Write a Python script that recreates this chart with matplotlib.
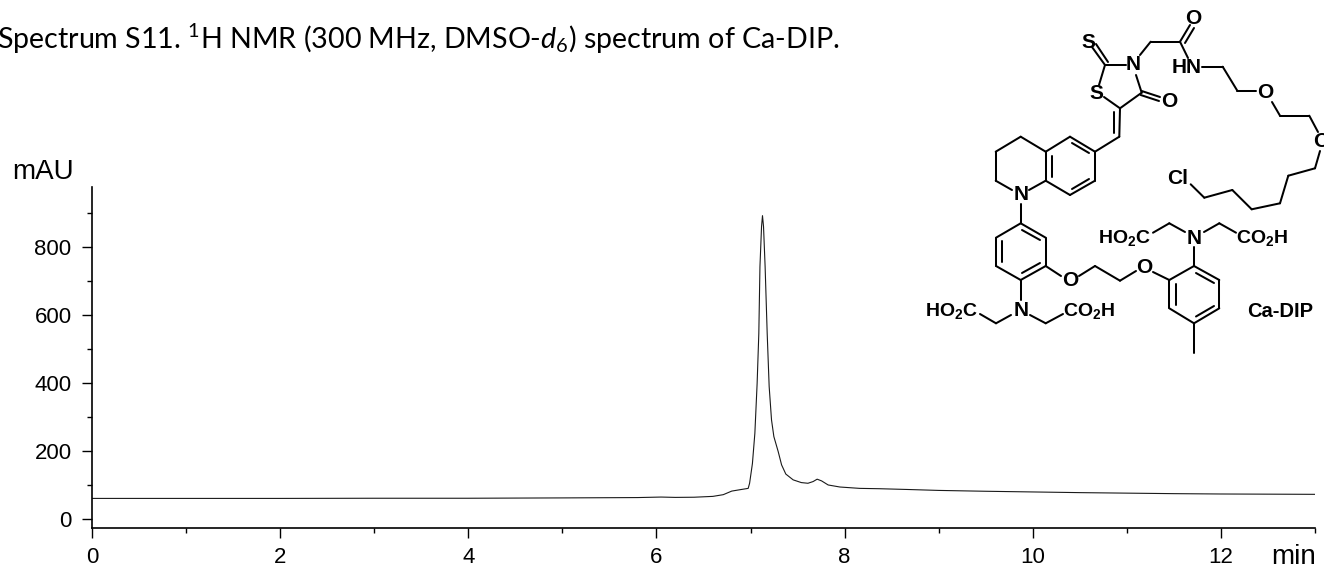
import matplotlib
matplotlib.use("Agg")
import matplotlib.pyplot as plt
from matplotlib.ticker import FixedLocator

plt.rcParams['font.family'] = ['Liberation Sans', 'DejaVu Sans']
plt.rcParams['mathtext.fontset'] = 'custom'
plt.rcParams['mathtext.rm'] = 'Lato'
plt.rcParams['mathtext.it'] = 'Lato:italic'
plt.rcParams['mathtext.bf'] = 'Liberation Sans:bold'

# --- chromatogram ---
time_min = [0, 1, 2, 3, 4, 5, 5.8, 6.05, 6.2, 6.4, 6.6, 6.71, 6.80, 6.886, 6.975, 6.99, 7.02, 7.046,
            7.07, 7.088, 7.10, 7.117, 7.127, 7.138, 7.155, 7.177, 7.198, 7.223, 7.248,
            7.294, 7.33, 7.375, 7.453, 7.54, 7.61, 7.665, 7.708, 7.755, 7.825, 7.95,
            8.16, 8.37, 8.7, 9, 9.5, 10, 10.5, 11, 11.5, 12, 12.5, 13]
signal_mau = [60.5, 60.5, 60.5, 61, 61, 62, 63, 64.5, 63.5, 64, 66.5, 71.5, 82, 86, 90, 105, 163, 252,
              398, 545, 741, 859, 891, 859, 741, 545, 389, 291, 242,
              198, 159, 132, 115, 107, 105, 110, 117, 112, 100, 94,
              90, 89, 86.5, 84, 81.5, 79.5, 77.5, 76, 74.5, 73.5, 73, 72.5]

x_major = [0, 2, 4, 6, 8, 10, 12]
x_minor = [1, 3, 5, 7, 9, 11, 13]
y_major = [0, 200, 400, 600, 800]
y_minor = [100, 300, 500, 700, 900]

title_text = r"Spectrum S11. $\mathrm{^{1}}$H NMR (300 MHz, DMSO-$\mathit{d_{6}}$) spectrum of Ca-DIP."

# --- structure drawing (figure pixels) ---
bonds = [
    [(1092, 47), (1105, 65)], [(1096, 44), (1108, 62)],
    [(1105, 65), (1126, 65)], [(1105, 65), (1099, 85)],
    [(1136, 75), (1141.7, 92.7)], [(1141.7, 92.7), (1120, 108.3)], [(1120, 108.3), (1104, 97)],
    [(1141.7, 91), (1160, 97)], [(1140.7, 95), (1159, 101)],
    [(1140, 55), (1150.7, 41.7)], [(1150.7, 41.7), (1180, 41.7)],
    [(1180, 41.7), (1190, 25)], [(1185, 43), (1194, 28)],
    [(1180, 41.7), (1188, 58)], [(1202, 66.7), (1222.7, 66.7)], [(1222.7, 66.7), (1237.3, 90.7)],
    [(1237.3, 90.7), (1256, 90.7)], [(1272, 102), (1280, 115.7)], [(1280, 115.7), (1309.3, 115.7)],
    [(1309.3, 115.7), (1318, 132)], [(1320, 151), (1315, 168.3)], [(1315, 168.3), (1288.3, 175.7)],
    [(1288.3, 175.7), (1280, 203.3)], [(1280, 203.3), (1251.7, 209.3)], [(1251.7, 209.3), (1232.3, 190)],
    [(1232.3, 190), (1204.3, 197.7)], [(1204.3, 197.7), (1190.7, 184.3)],
    [(1120, 108.3), (1119.3, 136.7)], [(1113.5, 112), (1113.5, 133)], [(1119.3, 136.7), (1095, 151.7)],
    [(1095, 151.7), (1070, 136.7)], [(1070, 136.7), (1045.7, 151.7)], [(1045.7, 151.7), (1045.7, 180.7)],
    [(1045.7, 180.7), (1070, 195)], [(1070, 195), (1095, 180.7)], [(1095, 180.7), (1095, 151.7)],
    [(1072, 143), (1089, 153)], [(1051.5, 156), (1051.5, 177)], [(1072, 189), (1089, 179)],
    [(1045.7, 151.7), (1020.7, 136.7)], [(1020.7, 136.7), (995.7, 151.7)], [(995.7, 151.7), (995.7, 180.7)],
    [(995.7, 180.7), (1012, 190)], [(1029, 190), (1045.7, 180.7)],
    [(1020.7, 204), (1020.7, 223.3)],
    [(1020.7, 223.3), (1045.7, 237.7)], [(1045.7, 237.7), (1045.7, 266)], [(1045.7, 266), (1020.7, 280)],
    [(1020.7, 280), (996, 266)], [(996, 266), (996, 237.7)], [(996, 237.7), (1020.7, 223.3)],
    [(1022, 230), (1040, 240)], [(1022, 273), (1040, 263)], [(1002, 241), (1002, 262)],
    [(1020.7, 280), (1020.7, 300)],
    [(1045.7, 266), (1061, 276)], [(1079, 276), (1095, 266)], [(1095, 266), (1120, 280.7)],
    [(1120, 280.7), (1136, 271)], [(1153, 272), (1169.3, 280)],
    [(1169.3, 280), (1194, 266)], [(1194, 266), (1219.3, 280)], [(1219.3, 280), (1219.3, 308.3)],
    [(1219.3, 308.3), (1194, 323.3)], [(1194, 323.3), (1169.3, 308.3)], [(1169.3, 308.3), (1169.3, 280)],
    [(1196, 273), (1214, 283)], [(1196, 316.5), (1214, 306)], [(1175.5, 284), (1175.5, 305)],
    [(1194, 323.3), (1194, 352.7)], [(1194, 247), (1194, 266)],
    [(1185, 232), (1169.3, 223.3)], [(1169.3, 223.3), (1153, 232.7)],
    [(1204, 232), (1219.3, 223.3)], [(1219.3, 223.3), (1236, 232.7)],
    [(1011, 315), (996, 323.3)], [(996, 323.3), (980, 314)],
    [(1030, 315), (1045.7, 323.3)], [(1045.7, 323.3), (1063, 314)],
]
atom_labels = [
    ("S", 1088.3, 42.3), ("N", 1133.3, 65), ("S", 1096, 93.3), ("O", 1169.3, 101.7),
    ("O", 1193.3, 18.3), ("HN", 1186.7, 67.3), ("O", 1265, 92.3), ("O", 1321.7, 141.7),
    ("Cl", 1177.3, 178.3), ("N", 1020.7, 195), ("O", 1070, 280.7), ("O", 1144.3, 267.3),
    ("N", 1194, 238.3), ("N", 1020.7, 310),
]
group_labels = [
    (r"$\mathbf{HO_{2}C}$", 1150.5, 238.5, "right"), (r"$\mathbf{CO_{2}H}$", 1236.5, 238.5, "left"),
    (r"$\mathbf{HO_{2}C}$", 977.5, 311, "right"), (r"$\mathbf{CO_{2}H}$", 1063, 311, "left"),
]
name_label = ("Ca-DIP", 1280, 311.7)

W, H = 1324, 572
fig = plt.figure(figsize=(W / 100, H / 100), dpi=100)
bottom, top, left, right = 527.7, 186.7, 92, 1315
ax = fig.add_axes([left / W, 1 - bottom / H, (right - left) / W, (bottom - top) / H])
ax.plot(time_min, signal_mau, color="#1a1a1a", lw=0.8, solid_joinstyle="round")
ax.set_xlim(0, 13)
ax.set_ylim(-25.5, 976)
for s in ("top", "right"):
    ax.spines[s].set_visible(False)
for s in ("left", "bottom"):
    ax.spines[s].set_linewidth(1.2)
ax.xaxis.set_major_locator(FixedLocator(x_major))
ax.xaxis.set_minor_locator(FixedLocator(x_minor))
ax.yaxis.set_major_locator(FixedLocator(y_major))
ax.yaxis.set_minor_locator(FixedLocator(y_minor))
ax.tick_params(which="major", length=7.2, width=1.0, labelsize=16, color="black")
ax.tick_params(axis="x", which="major", pad=6.5)
ax.tick_params(axis="y", which="major", pad=7.5)
ax.tick_params(which="minor", length=3.6, width=1.0)

over = fig.add_axes([0, 0, 1, 1], facecolor="none")
over.set_xlim(0, W)
over.set_ylim(H, 0)
over.axis("off")
for seg in bonds:
    over.plot([seg[0][0], seg[1][0]], [seg[0][1], seg[1][1]], color="black", lw=1.45,
              solid_capstyle="round")
for txt, x, y in atom_labels:
    over.text(x, y, txt, ha="center", va="center", fontsize=15, fontweight="bold", color="black")
for txt, x, y, ha in group_labels:
    over.text(x, y, txt, ha=ha, va="center", fontsize=14, color="black")
over.text(name_label[1], name_label[2], name_label[0], ha="center", va="center",
          fontsize=14.5, fontweight="bold", color="black")
over.text(12, 172, "mAU", ha="left", va="center", fontsize=20, color="black")
over.text(1271, 557, "min", ha="left", va="center", fontsize=20, color="black")
over.text(-3, 49, title_text, ha="left", va="baseline", fontsize=20.6, family="Lato", color="black")

fig.savefig("out.png", dpi=100)
